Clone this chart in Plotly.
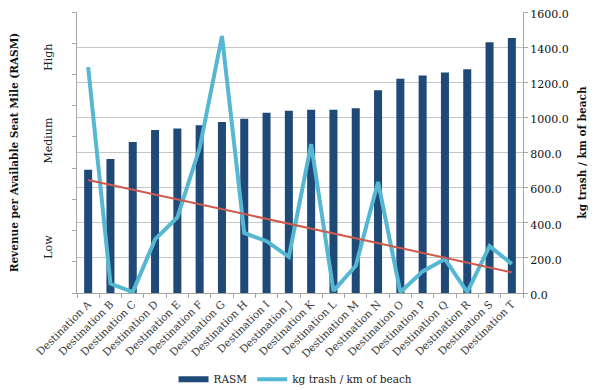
import numpy as np
import plotly.graph_objects as go

destinations = ["Destination " + c for c in "ABCDEFGHIJKLMNOPQRST"]
rasm = [3.95, 4.29, 4.84, 5.22, 5.27, 5.37, 5.48, 5.58, 5.77, 5.84,
        5.87, 5.87, 5.92, 6.49, 6.86, 6.97, 7.06, 7.17, 8.03, 8.17]
trash = [1286, 53, 5, 305, 430, 825, 1463, 342, 295, 206,
         847, 12, 155, 632, 5, 123, 193, 5, 267, 165]
rasm_labels = ["Low", "Medium", "High"]
rasm_label_pos = [1.42, 4.83, 7.5]

# linear trendline of the trash series (as in the original spreadsheet)
xi = np.arange(1, len(trash) + 1)
slope, intercept = np.polyfit(xi, trash, 1)
trend = slope * xi + intercept

SERIF = "DejaVu Serif"
GRAY = "#A6A6A6"
NAVY = "#1F4A78"

fig = go.Figure()
fig.add_trace(go.Bar(x=destinations, y=rasm, name="RASM",
                     marker=dict(color=NAVY, line=dict(width=0)),
                     yaxis="y", showlegend=False))
# legend swatch for the bars (flat rectangle as in the original)
fig.add_trace(go.Scatter(x=[None], y=[None], name="RASM", mode="lines",
                         line=dict(color=NAVY, width=6), yaxis="y"))
fig.add_trace(go.Scatter(x=destinations, y=trash, name="kg trash / km of beach",
                         mode="lines", line=dict(color="#55B7D1", width=4),
                         yaxis="y2"))
fig.add_trace(go.Scatter(x=destinations, y=trend, mode="lines",
                         line=dict(color="#CF5A4C", width=2),
                         showlegend=False, yaxis="y2", hoverinfo="skip"))

# the page has an 8px body margin, so the figure is 592x382 and offset by 8px
fig.update_layout(
    width=592, height=382,
    margin=dict(l=69, r=77, t=4, b=97, autoexpand=False),
    paper_bgcolor="white", plot_bgcolor="white",
    font=dict(family=SERIF, size=11, color="#222222"),
    bargap=0.64,
    showlegend=True,
    legend=dict(orientation="h", x=0.49, xanchor="center", y=-0.307, yanchor="middle",
                font=dict(family=SERIF, size=10.5, color="#222222"),
                itemwidth=30, traceorder="normal"),
    xaxis=dict(type="category", tickangle=-45, tickson="boundaries",
               ticks="outside", ticklen=4, tickcolor=GRAY, automargin=False,
               showline=True, linecolor=GRAY, linewidth=1,
               tickfont=dict(family=SERIF, size=10.5, color="#3A3A3A"),
               showgrid=False),
    yaxis=dict(range=[0, 9], tickmode="array", tickvals=rasm_label_pos,
               ticktext=rasm_labels, tickangle=-90, ticks="",
               ticklabelstandoff=20, automargin=False,
               minor=dict(tickmode="linear", tick0=0, dtick=1, ticks="outside",
                          ticklen=4, tickcolor=GRAY, showgrid=False),
               showline=True, linecolor=GRAY, linewidth=1, showgrid=False,
               zeroline=False,
               tickfont=dict(family=SERIF, size=11, color="#222222"),
               title=dict(text="<b>Revenue per Available Seat Mile (RASM)</b>",
                          font=dict(family=SERIF, size=10.5, color="#111111"),
                          standoff=22)),
    yaxis2=dict(range=[0, 1600], dtick=200, tickformat=".1f", overlaying="y",
                side="right", ticks="outside", ticklen=4, tickcolor=GRAY,
                showline=True, linecolor=GRAY, linewidth=1, automargin=False,
                showgrid=True, gridcolor="#C6C6C6", gridwidth=1.3,
                zeroline=False, ticklabelshift=2, ticklabeloverflow="allow",
                tickfont=dict(family=SERIF, size=11, color="#111111"),
                title=dict(text="<b>kg trash / km of beach</b>",
                           font=dict(family=SERIF, size=10.5, color="#111111"),
                           standoff=10)),
)

fig.write_html("out.html")
